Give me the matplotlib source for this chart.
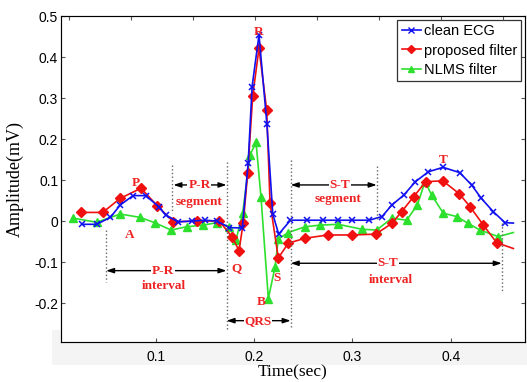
import matplotlib.pyplot as plt
from matplotlib.patches import Rectangle

# clean ECG (blue x)
clean_t = [0.025, 0.040, 0.054, 0.064, 0.077, 0.090, 0.103, 0.110, 0.123, 0.137,
           0.150, 0.162, 0.175, 0.188, 0.194, 0.198, 0.205, 0.213, 0.219, 0.225,
           0.237, 0.2535, 0.270, 0.285, 0.299, 0.317, 0.330, 0.340, 0.352, 0.364,
           0.377, 0.392, 0.409, 0.421, 0.431, 0.443, 0.455]
clean_v = [-0.008, -0.008, 0.009, 0.039, 0.062, 0.062, 0.035, 0.015, -0.002, 0.0,
           0.002, 0.0, -0.016, -0.017, 0.142, 0.328, 0.454, 0.237, 0.017, -0.032,
           0.002, 0.002, 0.002, 0.002, 0.002, 0.002, 0.011, 0.039, 0.063, 0.096,
           0.120, 0.131, 0.118, 0.088, 0.055, 0.023, -0.004]

# proposed filter (red diamonds)
prop_t = [0.0238, 0.0462, 0.0638, 0.0851, 0.1017, 0.118, 0.1417, 0.1647, 0.178, 0.1847,
          0.189, 0.1935, 0.1986, 0.2050, 0.2128, 0.2162, 0.2246, 0.2348, 0.2518, 0.2748,
          0.2992, 0.3236, 0.3399, 0.350, 0.362, 0.3745, 0.3917, 0.4083, 0.4195, 0.433,
          0.4466]
prop_v = [0.021, 0.021, 0.055, 0.080, 0.037, -0.002, 0.0, 0.0, -0.040, -0.072,
          -0.004, 0.116, 0.305, 0.421, 0.271, 0.045, -0.090, -0.054, -0.042, -0.034,
          -0.034, -0.032, -0.006, 0.023, 0.059, 0.096, 0.098, 0.067, 0.035, -0.010,
          -0.053]

# NLMS filter (green triangles)
nlms_t = [0.0163, 0.040, 0.064, 0.084, 0.099, 0.1156, 0.1315, 0.1484, 0.162, 0.175,
          0.1816, 0.1884, 0.1959, 0.2020, 0.2070, 0.2145, 0.2213, 0.2246, 0.2348, 0.2518,
          0.2670, 0.2856, 0.3094, 0.3246, 0.3399, 0.355, 0.3659, 0.3737, 0.3805, 0.3923,
          0.4059, 0.4177, 0.4296, 0.4482]
nlms_v = [0.007, -0.003, 0.017, 0.009, -0.004, -0.022, -0.014, -0.010, -0.004, -0.014,
          -0.046, 0.019, 0.161, 0.192, 0.059, -0.189, -0.112, -0.044, -0.028, -0.014,
          -0.010, -0.008, -0.020, -0.022, 0.007, 0.002, 0.039, 0.096, 0.063, 0.019,
          0.011, -0.006, -0.022, -0.038]

# line tails after the last marker
tail_t = 0.4635
clean_tail, prop_tail, nlms_tail = -0.005, -0.067, -0.028

xticks = [0.1, 0.2, 0.3, 0.4]
yticks = [-0.2, -0.1, 0, 0.1, 0.2, 0.3, 0.4, 0.5]

W, H = 527, 382
fig = plt.figure(figsize=(W / 100, H / 100), dpi=100)
fig.patches.append(Rectangle((52 / W, 1 - 365 / H), 1, 35 / H, transform=fig.transFigure,
                             facecolor='#f4f4f4', edgecolor='none', zorder=-5))
ax = fig.add_axes([61 / W, 1 - 342 / H, 464 / W, 326 / H])

blue, red, green = '#1010f0', '#f01010', '#2ee02e'
ax.plot(clean_t + [tail_t], clean_v + [clean_tail], color=blue, lw=1.2, zorder=3)
ax.plot(prop_t + [tail_t], prop_v + [prop_tail], color=red, lw=1.2, zorder=2)
ax.plot(nlms_t + [tail_t], nlms_v + [nlms_tail], color=green, lw=1.2, zorder=1)
ax.plot(clean_t, clean_v, 'x', color=blue, ms=5, mew=1.1, zorder=3)
ax.plot(prop_t, prop_v, 'D', color=red, ms=5, zorder=2)
ax.plot(nlms_t, nlms_v, '^', color=green, ms=5.5, zorder=1)
# legend proxies
ax.plot([], [], '-x', color=blue, ms=4, lw=1.2, label='clean ECG')
ax.plot([], [], '-D', color=red, ms=4.5, lw=1.2, label='proposed filter')
ax.plot([], [], '-^', color=green, ms=5, lw=1.2, label='NLMS filter')

ax.set_xlim(0.0038, 0.4753)
ax.set_ylim(-0.295, 0.5)
ax.set_xticks(xticks)
ax.set_xticklabels(['0.1', '0.2', '0.3', '0.4'])
ax.set_yticks(yticks)
ax.set_yticklabels(['-0.2', '-0.1', '0', '0.1', '0.2', '0.3', '0.4', '0.5'])
ax.tick_params(direction='in', length=3, width=0.8, color='#555555', labelsize=10,
               right=True)
ax.tick_params(axis='x', pad=5.5)
ax.tick_params(axis='y', pad=2)
for lab in ax.get_xticklabels() + ax.get_yticklabels():
    lab.set_fontfamily('Liberation Sans')
for s in ax.spines.values():
    s.set_color('#555555')
    s.set_linewidth(0.8)

top = ax.twiny()
top.set_xlim(0, 1)
top.set_xticks([0.017 + k * 0.1336 for k in range(8)])
top.tick_params(direction='in', length=3, width=0.8, color='#555555', labeltop=False)

# dotted guide lines
guides = [(0.0496, -0.022, -0.148), (0.1165, 0.137, 0.02), (0.172, 0.145, -0.266),
          (0.2372, 0.149, -0.262), (0.3246, 0.135, 0.005), (0.4517, -0.006, -0.175)]
for gx, y0, y1 in guides:
    ax.plot([gx, gx], [y0, y1], ls=':', color='#666666', lw=1.0, zorder=4)

arrows = [(0.118, 0.172, 0.088), (0.0496, 0.172, -0.121), (0.172, 0.2372, -0.243),
          (0.2372, 0.3246, 0.088), (0.2372, 0.4517, -0.103)]
for x0, x1, y in arrows:
    ax.annotate('', xy=(x0, y), xytext=(x1, y), zorder=5,
                arrowprops=dict(arrowstyle='<|-|>,head_length=0.45,head_width=0.15',
                                color='black', lw=1, shrinkA=0, shrinkB=0))

tf = dict(family='Liberation Serif', weight='bold', color='#ee2222', fontsize=9.5,
          ha='center', va='center', zorder=6)
bb = dict(facecolor='white', edgecolor='none', pad=0.6)
for txt, x, y, box in [('P-R', 0.1444, 0.088, True), ('segment', 0.1444, 0.047, False),
                       ('P-R', 0.1078, -0.121, True), ('interval', 0.1078, -0.159, False),
                       ('QRS', 0.204, -0.243, True),
                       ('S-T', 0.2874, 0.088, True), ('segment', 0.2850, 0.053, False),
                       ('S-T', 0.336, -0.103, True), ('interval', 0.339, -0.144, False),
                       ('P', 0.080, 0.093, False), ('A', 0.074, -0.034, False),
                       ('R', 0.205, 0.462, False), ('Q', 0.1823, -0.115, False),
                       ('S', 0.2236, -0.140, False), ('B', 0.207, -0.197, False),
                       ('T', 0.392, 0.150, False)]:
    ax.text(x, y, txt, bbox=bb if box else None, **tf)

leg = ax.legend(loc='upper right', handlelength=1.3, handletextpad=0.2,
                borderpad=0.3, labelspacing=0.38, borderaxespad=0.25, fancybox=False,
                framealpha=1, prop={'family': 'Liberation Sans', 'size': 10.5})
leg.get_frame().set_edgecolor('#333333')
leg.get_frame().set_linewidth(0.9)
leg.set_zorder(10)

fig.text(293 / W, 1 - 372 / H, 'Time(sec)', family='Liberation Serif', fontsize=12.5,
         ha='center', va='center')
fig.text(15 / W, 1 - 179 / H, 'Amplitude(mV)', family='Liberation Serif', fontsize=13,
         ha='center', va='center', rotation=90)

fig.savefig('out.png', dpi=100)
